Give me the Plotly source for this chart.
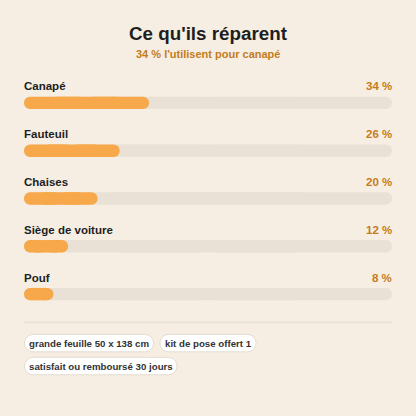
import plotly.graph_objects as go

# ---- data ----
categories = ["Canapé", "Fauteuil", "Chaises", "Siège de voiture", "Pouf"]
shares = [34, 26, 20, 12, 8]
value_labels = ["34 %", "26 %", "20 %", "12 %", "8 %"]
track_max = 100
title_text = "Ce qu'ils réparent"
subtitle_text = "34 % l'utilisent pour canapé"
chips = ["grande feuille 50 x 138 cm", "kit de pose offert 1", "satisfait ou remboursé 30 jours"]

# ---- style ----
BG = "#F6EEE3"
FILL = "#F7A84A"
TRACK = "#E9E1D5"
ORANGE = "#C47C1C"
DARK = "#1E1E1E"
FONT = "Liberation Sans, Arial, sans-serif"

W = H = 416
L, R = 24, 392          # plot area x in px
T, B = 78.5, 318.5      # plot area y in px


def px(x):
    return (x - L) / (R - L)


def py(y):
    return (B - y) / (B - T)


rows = list(range(len(categories)))
bw = 12.5 / 48.0

fig = go.Figure()


def pill(values, color):
    halves = [v / 2 for v in values]
    fig.add_trace(go.Bar(y=rows, x=halves, base=halves, orientation="h",
                         width=bw, marker=dict(color=color, cornerradius="50%", line=dict(width=0)),
                         hoverinfo="skip", showlegend=False))
    fig.add_trace(go.Bar(y=rows, x=[-h for h in halves], base=halves, orientation="h",
                         width=bw, marker=dict(color=color, cornerradius="50%", line=dict(width=0)),
                         hoverinfo="skip", showlegend=False))
    fig.add_trace(go.Bar(y=rows, x=halves, base=[h / 2 for h in halves], orientation="h",
                         width=bw, marker=dict(color=color, line=dict(width=0)),
                         hoverinfo="skip", showlegend=False))


pill([track_max] * len(categories), TRACK)
pill(shares, FILL)

annotations = []
for i, (cat, lab) in enumerate(zip(categories, value_labels)):
    annotations.append(dict(x=0, y=i, xref="x", yref="y", text=f"<b>{cat}</b>",
                            showarrow=False, xanchor="left", yanchor="middle", yshift=16.5, xshift=-2,
                            font=dict(family=FONT, size=11.5, color=DARK)))
    annotations.append(dict(x=track_max, y=i, xref="x", yref="y", text=f"<b>{lab}</b>",
                            showarrow=False, xanchor="right", yanchor="middle", yshift=16.5, xshift=1.5,
                            font=dict(family=FONT, size=11.5, color=ORANGE)))

annotations.append(dict(x=px(208), y=py(33), xref="paper", yref="paper",
                        text=f"<b>{title_text}</b>", showarrow=False,
                        xanchor="center", yanchor="middle",
                        font=dict(family=FONT, size=18.8, color=DARK)))
annotations.append(dict(x=px(208), y=py(53.5), xref="paper", yref="paper",
                        text=f"<b>{subtitle_text}</b>", showarrow=False,
                        xanchor="center", yanchor="middle",
                        font=dict(family=FONT, size=11, color=ORANGE)))

shapes = [dict(type="line", xref="paper", yref="paper", x0=px(24), x1=px(392),
               y0=py(322.7), y1=py(322.7), line=dict(color="#E2D8CA", width=1))]

chip_boxes = [(24.5, 153.5, 335, 352.5), (160, 256, 335, 352.5), (24.5, 177, 358, 375.5)]


def pill_path(x0, x1, y0, y1):
    r = (y1 - y0) / 2
    k = 0.5523 * r
    pts = []
    pts.append(f"M{px(x0 + r)},{py(y0)}")
    pts.append(f"L{px(x1 - r)},{py(y0)}")
    pts.append(f"C{px(x1 - r + k)},{py(y0)} {px(x1)},{py(y0 + r - k)} {px(x1)},{py(y0 + r)}")
    pts.append(f"C{px(x1)},{py(y0 + r + k)} {px(x1 - r + k)},{py(y1)} {px(x1 - r)},{py(y1)}")
    pts.append(f"L{px(x0 + r)},{py(y1)}")
    pts.append(f"C{px(x0 + r - k)},{py(y1)} {px(x0)},{py(y1 - r + k)} {px(x0)},{py(y1 - r)}")
    pts.append(f"C{px(x0)},{py(y0 + r - k)} {px(x0 + r - k)},{py(y0)} {px(x0 + r)},{py(y0)}")
    return " ".join(pts) + " Z"


for text, (x0, x1, y0, y1) in zip(chips, chip_boxes):
    shapes.append(dict(type="path", xref="paper", yref="paper", path=pill_path(x0, x1, y0, y1),
                       fillcolor="#FFFFFF", line=dict(color="#E4DCD0", width=1), layer="above"))
    annotations.append(dict(x=px((x0 + x1) / 2), y=py((y0 + y1) / 2), xref="paper", yref="paper",
                            text=f"<b>{text}</b>", showarrow=False, xanchor="center", yanchor="middle",
                            font=dict(family=FONT, size=9.7, color="#333333")))

fig.update_layout(
    width=W, height=H,
    margin=dict(l=L, r=W - R, t=T, b=H - B, pad=0),
    paper_bgcolor=BG, plot_bgcolor=BG,
    barmode="overlay",
    xaxis=dict(range=[0, track_max], visible=False, fixedrange=True),
    yaxis=dict(range=[len(categories) - 0.5, -0.5], visible=False, fixedrange=True),
    annotations=annotations,
    shapes=shapes,
    showlegend=False,
)

fig.write_html("out.html", config={"displayModeBar": False},
               post_script="document.body.style.margin='0';document.body.style.background='" + BG + "';")
